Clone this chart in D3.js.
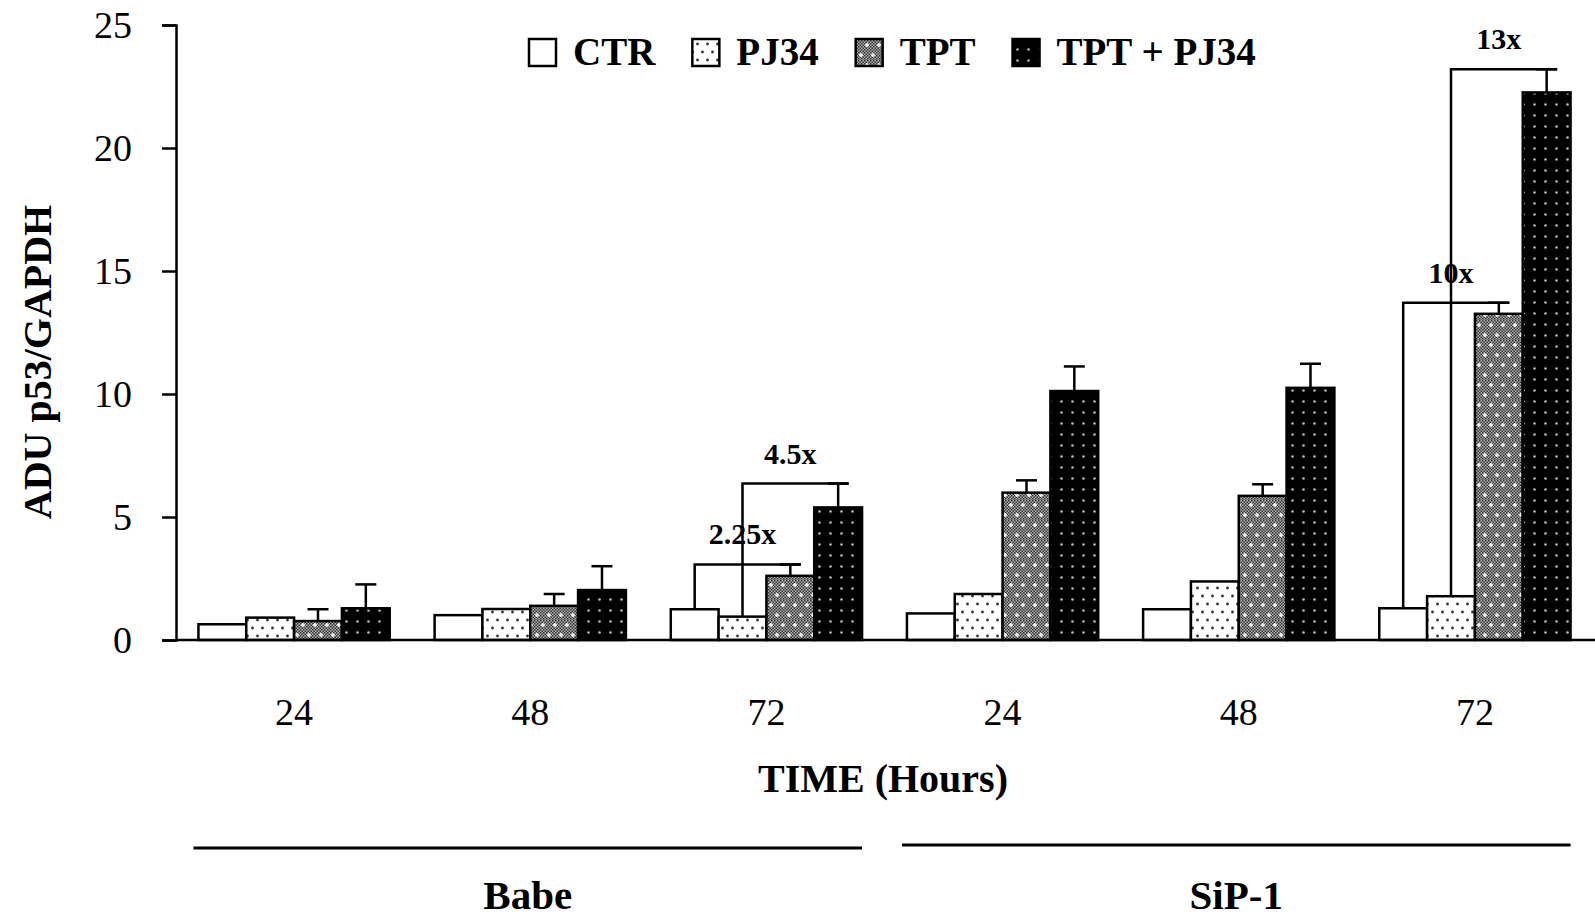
<!DOCTYPE html>
<html lang="en">
<head>
    <meta charset="UTF-8">
    <title>p53 / GAPDH</title>
    <style>
        body { margin: 0; background: #fff; }
        text { font-family: "Liberation Serif", "Times New Roman", serif; fill: #000; }
        .bold { font-weight: bold; }
    </style>
</head>
<body>
<svg></svg>
<script src="https://cdn.jsdelivr.net/npm/d3@7"></script>
<script>
    // data
    var groups = ["Babe-24", "Babe-48", "Babe-72", "SiP1-24", "SiP1-48", "SiP1-72"];
    var hourLabels = ["24", "48", "72", "24", "48", "72"];
    var cellLines = ["Babe", "SiP-1"];
    var cellLineGroups = [["Babe-24", "Babe-72"], ["SiP1-24", "SiP1-72"]];
    var series = ["CTR", "PJ34", "TPT", "TPT + PJ34"];

    var ctr = [0.64, 1.01, 1.25, 1.08, 1.25, 1.29];
    var pj34 = [0.91, 1.26, 0.95, 1.87, 2.38, 1.78];
    var tpt = [0.77, 1.39, 2.61, 5.99, 5.86, 13.26];
    var tptPj34 = [1.29, 2.03, 5.39, 10.12, 10.25, 22.26];

    // only the TPT bars carry error bars (upper half)
    var tptErr = [0.48, 0.48, 0.46, 0.50, 0.47, 0.45];
    var tptPj34Err = [0.97, 0.97, 0.97, 1.00, 0.98, 0.94];

    var yTicks = [0, 5, 10, 15, 20, 25];

    // fold-change brackets: from bar -> to bar in one group
    var folds = [
        {label: "2.25x", group: "Babe-72", from: "CTR", to: "TPT"},
        {label: "4.5x", group: "Babe-72", from: "PJ34", to: "TPT + PJ34"},
        {label: "10x", group: "SiP1-72", from: "CTR", to: "TPT"},
        {label: "13x", group: "SiP1-72", from: "PJ34", to: "TPT + PJ34"}
    ];

    var values = {"CTR": ctr, "PJ34": pj34, "TPT": tpt, "TPT + PJ34": tptPj34};
    var errors = {"TPT": tptErr, "TPT + PJ34": tptPj34Err};
    var fills = {"CTR": "#fff", "PJ34": "url(#pDots)", "TPT": "url(#pTpt)", "TPT + PJ34": "url(#pBlack)"};

    var width = 1595, height = 917;
    var axisX = 176, baseY = 640, topY = 25;
    var capW = 21;

    var svg = d3.select("svg")
        .attr("width", width)
        .attr("height", height);

    // hatch patterns
    var defs = svg.append("defs");

    var p1 = defs.append("pattern").attr("id", "pDots")
        .attr("patternUnits", "userSpaceOnUse").attr("width", 10).attr("height", 16);
    p1.append("rect").attr("width", 10).attr("height", 16).attr("fill", "#fff");
    p1.append("circle").attr("cx", 2.5).attr("cy", 4).attr("r", 1.4).attr("fill", "#333");
    p1.append("circle").attr("cx", 7.5).attr("cy", 12).attr("r", 1.4).attr("fill", "#333");

    var chk = defs.append("pattern").attr("id", "pChk")
        .attr("patternUnits", "userSpaceOnUse").attr("width", 3).attr("height", 3);
    chk.append("rect").attr("width", 3).attr("height", 3).attr("fill", "#b0b0b0");
    chk.append("rect").attr("width", 1.5).attr("height", 1.5).attr("fill", "#333");
    chk.append("rect").attr("x", 1.5).attr("y", 1.5).attr("width", 1.5).attr("height", 1.5).attr("fill", "#333");

    var p2 = defs.append("pattern").attr("id", "pTpt")
        .attr("patternUnits", "userSpaceOnUse").attr("width", 12).attr("height", 20);
    p2.append("rect").attr("width", 12).attr("height", 20).attr("fill", "url(#pChk)");
    [[3, 5], [9, 15]].forEach(function (c) {
        p2.append("rect").attr("x", c[0] - 2).attr("y", c[1] - 0.75).attr("width", 4).attr("height", 1.5).attr("fill", "#fff");
        p2.append("rect").attr("x", c[0] - 0.75).attr("y", c[1] - 2).attr("width", 1.5).attr("height", 4).attr("fill", "#fff");
    });

    var p3 = defs.append("pattern").attr("id", "pBlack")
        .attr("patternUnits", "userSpaceOnUse").attr("width", 11).attr("height", 11);
    p3.append("rect").attr("width", 11).attr("height", 11).attr("fill", "#000");
    p3.append("circle").attr("cx", 5.5).attr("cy", 5.5).attr("r", 1.3).attr("fill", "#bbb");

    // scales
    var y = d3.scaleLinear().domain([0, 25]).range([baseY, topY]);
    var x0 = d3.scaleBand().domain(groups).range([axisX, width - 2])
        .paddingInner(0.19).paddingOuter(0.095);
    var x1 = d3.scaleBand().domain(series).range([0, x0.bandwidth()]);

    function cx(g, s) { return x0(g) + x1(s) + x1.bandwidth() / 2; }

    // bars
    var rows = [];
    groups.forEach(function (g, i) {
        series.forEach(function (s) {
            rows.push({g: g, s: s, v: values[s][i], e: errors[s] ? errors[s][i] : 0});
        });
    });

    svg.append("g").selectAll("rect")
        .data(rows)
        .enter().append("rect")
        .attr("x", function (d) { return x0(d.g) + x1(d.s); })
        .attr("y", function (d) { return y(d.v); })
        .attr("width", x1.bandwidth())
        .attr("height", function (d) { return y(0) - y(d.v); })
        .attr("fill", function (d) { return fills[d.s]; })
        .attr("stroke", "#000")
        .attr("stroke-width", 2.5);

    // error bars
    var eb = svg.append("g").attr("stroke", "#000").attr("stroke-width", 2.5);
    rows.filter(function (d) { return d.e > 0; }).forEach(function (d) {
        var c = cx(d.g, d.s);
        eb.append("line").attr("x1", c).attr("x2", c).attr("y1", y(d.v)).attr("y2", y(d.v + d.e));
        eb.append("line").attr("x1", c - capW / 2).attr("x2", c + capW / 2)
            .attr("y1", y(d.v + d.e)).attr("y2", y(d.v + d.e));
    });

    // y axis
    var yAxis = d3.axisLeft(y).tickValues(yTicks).tickSize(14).tickPadding(30);
    var ya = svg.append("g")
        .attr("transform", "translate(" + axisX + ",0)")
        .call(yAxis);
    ya.selectAll("path, line").attr("stroke-width", 2.5);
    ya.selectAll("text")
        .style("font-family", "'Liberation Serif', 'Times New Roman', serif")
        .style("font-size", "38px");

    // x baseline
    svg.append("line")
        .attr("x1", axisX).attr("x2", width)
        .attr("y1", y(0)).attr("y2", y(0))
        .attr("stroke", "#000").attr("stroke-width", 2.5);

    // hour labels
    var xAxis = d3.axisBottom(x0).tickSize(0).tickPadding(58)
        .tickFormat(function (d, i) { return hourLabels[i]; });
    var xa = svg.append("g")
        .attr("transform", "translate(0," + y(0) + ")")
        .call(xAxis);
    xa.select(".domain").remove();
    xa.selectAll("text")
        .style("font-family", "'Liberation Serif', 'Times New Roman', serif")
        .style("font-size", "38px");

    // fold brackets
    var br = svg.append("g");
    folds.forEach(function (f) {
        var i = groups.indexOf(f.group);
        var xa1 = cx(f.group, f.from);
        var xb = cx(f.group, f.to);
        var yb = y(values[f.to][i] + errors[f.to][i]);
        br.append("path")
            .attr("d", "M" + xa1 + "," + y(values[f.from][i]) + "V" + yb + "H" + (xb + capW / 2))
            .attr("fill", "none").attr("stroke", "#000").attr("stroke-width", 2.5);
        br.append("text")
            .attr("class", "bold")
            .attr("x", (xa1 + xb) / 2)
            .attr("y", yb - 20)
            .attr("text-anchor", "middle")
            .style("font-size", "30px")
            .text(f.label);
    });

    // legend
    var lg = svg.append("g");
    var lx = 529;
    series.forEach(function (s) {
        lg.append("rect")
            .attr("x", lx).attr("y", 39)
            .attr("width", 27).attr("height", 27)
            .attr("fill", fills[s]).attr("stroke", "#000").attr("stroke-width", 2.5);
        var t = lg.append("text")
            .attr("class", "bold")
            .attr("x", lx + 44).attr("y", 65)
            .style("font-size", "39px")
            .text(s);
        lx += 44 + t.node().getComputedTextLength() + 37;
    });

    // axis titles
    svg.append("text")
        .attr("class", "bold")
        .attr("transform", "rotate(-90)")
        .attr("x", -362)
        .attr("y", 51)
        .attr("text-anchor", "middle")
        .style("font-size", "40px")
        .text("ADU p53/GAPDH");

    svg.append("text")
        .attr("class", "bold")
        .attr("x", 883)
        .attr("y", 792)
        .attr("text-anchor", "middle")
        .style("font-size", "40px")
        .text("TIME (Hours)");

    // cell line underlines + names
    cellLineGroups.forEach(function (pair, i) {
        var xs = x0(pair[0]) - 5;
        var xe = x0(pair[1]) + x0.bandwidth();
        svg.append("line")
            .attr("x1", xs).attr("x2", xe)
            .attr("y1", 848 - i * 3).attr("y2", 848 - i * 3)
            .attr("stroke", "#000").attr("stroke-width", 3);
        svg.append("text")
            .attr("class", "bold")
            .attr("x", (xs + xe) / 2)
            .attr("y", 909)
            .attr("text-anchor", "middle")
            .style("font-size", "41px")
            .text(cellLines[i]);
    });
</script>
</body>
</html>
